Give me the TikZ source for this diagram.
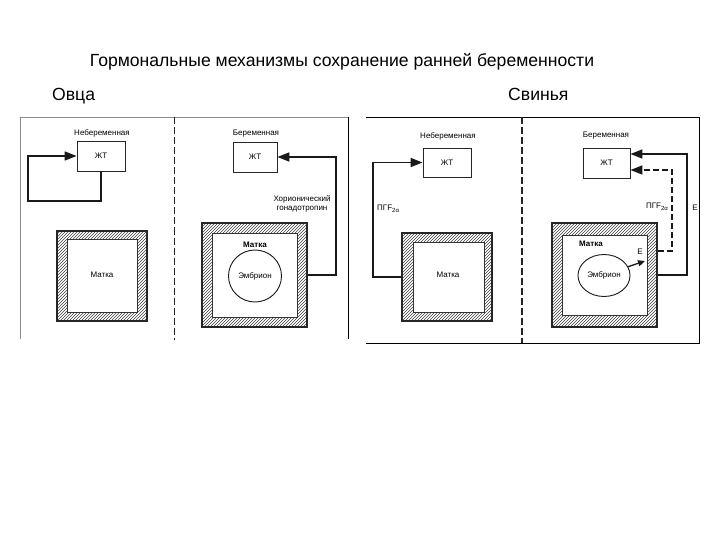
\documentclass[tikz,border=0pt]{standalone}
\usepackage{fontspec}
\setmainfont{Liberation Sans}
\usetikzlibrary{patterns,arrows.meta,calc,shapes.geometric}
\begin{document}
\begin{tikzpicture}[x=1pt,y=-1pt,
  ztbox/.style={draw=black!85, line width=0.9pt, minimum width=46pt, minimum height=30pt, inner sep=0pt, font=\fontsize{8}{9}\selectfont},
  framebox/.style={draw=black!85, line width=1.2pt, pattern=north east lines, pattern color=black!75, inner sep=0pt},
  innerbox/.style={draw=black!80, line width=0.8pt, fill=white, inner sep=0pt},
  embryo/.style={ellipse, draw=black!90, line width=0.9pt, inner sep=0pt, font=\fontsize{8}{9}\selectfont},
  small/.style={font=\fontsize{8}{9}\selectfont, inner sep=1pt},
  conn/.style={line width=1.7pt, draw=black!90, -{Triangle[length=12pt,width=9pt]}},
  dconn/.style={conn, dash pattern=on 6pt off 3pt},
  sep/.style={line width=1.1pt, black!85, dash pattern=on 7pt off 3pt},
  bigtext/.style={font=\fontsize{17.6}{20}\selectfont, inner sep=0pt}
]
\useasboundingbox (0,0) rectangle (720,540);
\fill[white] (0,0) rectangle (720,540);

% titles
\node[bigtext, anchor=base] (title) at (342,66.5) {Гормональные механизмы сохранение ранней беременности};
\node[bigtext, anchor=base west] (ovca) at (52,101) {Овца};
\node[bigtext, anchor=base west] (svin) at (508,101) {Свинья};

% panel borders
\draw[black!45, line width=0.8pt] (20.5,339) -- (20.5,117.5) -- (348,117.5);
\draw[black, line width=1pt] (348,117.5) -- (348,339);
\draw[black, line width=1pt] (366,117.5) -- (699,117.5) -- (699,343) -- (366,343);

% separators
\draw[sep] (174.5,117.5) -- (174.5,340);
\draw[sep] (522,117.5) -- (522,343);

% ---- Panel 1: sheep, non-pregnant
\node[small] (lab1) at (102,133) {Небеременная};
\node[ztbox, minimum width=48pt] (zt1) at (101,156) {ЖТ};
\node[framebox, minimum width=90pt, minimum height=90pt] (ut1) at (102,276) {};
\node[innerbox, minimum width=70pt, minimum height=73pt] (ut1i) at (102,275.5) {};
\node[small] (mat1) at (102,275) {Матка};
\coordinate (c1) at (28,201);
\draw[conn] (zt1.south) |- (c1) |- (zt1.west);

% ---- Panel 2: sheep, pregnant
\node[small] (lab2) at (256,134) {Беременная};
\node[ztbox, minimum width=44pt] (zt2) at (255,157) {ЖТ};
\node[framebox, minimum width=105pt, minimum height=104pt] (ut2) at (254.5,275) {};
\node[innerbox, minimum width=85pt, minimum height=84pt] (ut2i) at (255,275) {};
\node[small] (mat2) at (255,245) {\textbf{Матка}};
\node[embryo, minimum width=53pt, minimum height=52pt] (emb2) at (255,276) {Эмбрион};
\coordinate (r2) at (336,157);
\draw[conn] (ut2.east) -| (r2) -- (zt2.east);
\node[small, align=center] (hg) at (302,204) {Хорионический\\гонадотропин};

% ---- Panel 3: pig, non-pregnant
\node[small] (lab3) at (448,136) {Небеременная};
\node[ztbox, minimum width=48pt, minimum height=29pt] (zt3) at (447,162.5) {ЖТ};
\node[framebox, minimum width=90pt, minimum height=88pt] (ut3) at (447,277) {};
\node[innerbox, minimum width=71pt, minimum height=70pt] (ut3i) at (448.5,277) {};
\node[small] (mat3) at (448,275) {Матка};
\coordinate (l3) at (373,162.5);
\draw[conn] (ut3.west) -| (l3) -- (zt3.west);
\node[small, anchor=west] (pg3) at (376,209) {ПГF{\fontsize{6}{6}\selectfont\raisebox{-2pt}{2α}}};

% ---- Panel 4: pig, pregnant
\node[small] (lab4) at (606,136) {Беременная};
\node[ztbox, minimum width=47pt] (zt4) at (606.5,163) {ЖТ};
\node[framebox, minimum width=105pt, minimum height=104pt] (ut4) at (604.5,275) {};
\node[innerbox, minimum width=85pt, minimum height=80pt] (ut4i) at (605,275.5) {};
\node[small] (mat4) at (591,244) {\textbf{Матка}};
\node[embryo, minimum width=52pt, minimum height=42pt] (emb4) at (604,275.5) {Эмбрион};
\coordinate (s4) at (687,154);
\coordinate (d4) at (672,170);
\draw[conn] (ut4.east) -| (s4) -- ($(zt4.east)+(0,-9)$);
\draw[dconn] ($(ut4.east)+(0,-24)$) -| (d4) -- ($(zt4.east)+(0,7)$);
\coordinate (e4) at (645,261);
\draw[line width=1.3pt, black!90, -{Triangle[length=7pt,width=6pt]}] (emb4.20) -- (e4);
\node[small] (elab) at (640,252) {E};
\node[small] (pg4) at (657,207) {ПГF{\fontsize{6}{6}\selectfont\raisebox{-2pt}{2α}}};
\node[small] (e4lab) at (695,208) {E};
\end{tikzpicture}
\end{document}
